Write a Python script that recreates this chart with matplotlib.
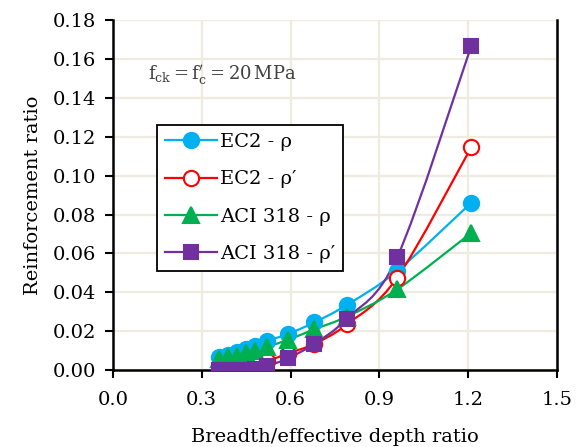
import matplotlib.pyplot as plt
from matplotlib.path import Path
from matplotlib.patches import PathPatch
from matplotlib.lines import Line2D

# breadth / effective depth ratio
x = [0.36, 0.39, 0.42, 0.45, 0.48, 0.52, 0.59, 0.68, 0.79, 0.96, 1.21]

ec2_rho = [0.0070, 0.0080, 0.0093, 0.0108, 0.0125, 0.0150, 0.0185, 0.0245, 0.0335, 0.0510, 0.0860]
ec2_rho_p = [0.0000, 0.0003, 0.0008, 0.0015, 0.0025, 0.0045, 0.0085, 0.0135, 0.0235, 0.0475, 0.1145]
aci_rho = [0.0055, 0.0065, 0.0075, 0.0087, 0.0100, 0.0120, 0.0155, 0.0210, 0.0275, 0.0415, 0.0705]
aci_rho_p = [0.0000, 0.0000, 0.0000, 0.0000, 0.0005, 0.0020, 0.0060, 0.0135, 0.0265, 0.0580, 0.1665]

xticks = [0.0, 0.3, 0.6, 0.9, 1.2, 1.5]
yticks = [0.00, 0.02, 0.04, 0.06, 0.08, 0.10, 0.12, 0.14, 0.16, 0.18]

plt.rcParams['font.family'] = ['DejaVu Serif']
plt.rcParams['mathtext.fontset'] = 'dejavuserif'

fig = plt.figure(figsize=(5.82, 4.47), dpi=100)
ax = fig.add_axes([0.194, 0.172, 0.763, 0.783])


def smooth_path(xs, ys):
    # excel style smoothed line (cubic bezier through the points)
    n = len(xs)
    verts = [(xs[0], ys[0])]
    codes = [Path.MOVETO]
    for i in range(n - 1):
        x0, y0 = (xs[i - 1], ys[i - 1]) if i > 0 else (xs[i], ys[i])
        x3, y3 = (xs[i + 2], ys[i + 2]) if i + 2 < n else (xs[i + 1], ys[i + 1])
        c1 = (xs[i] + (xs[i + 1] - x0) / 6, ys[i] + (ys[i + 1] - y0) / 6)
        c2 = (xs[i + 1] - (x3 - xs[i]) / 6, ys[i + 1] - (y3 - ys[i]) / 6)
        verts += [c1, c2, (xs[i + 1], ys[i + 1])]
        codes += [Path.CURVE4] * 3
    return Path(verts, codes)


series = [
    (ec2_rho, '#00B0F0', 'o', '#00B0F0', 11, 'EC2 - ρ'),
    (ec2_rho_p, '#FF0000', 'o', 'white', 11, 'EC2 - ρ′'),
    (aci_rho, '#00B050', '^', '#00B050', 11, 'ACI 318 - ρ'),
    (aci_rho_p, '#7030A0', 's', '#7030A0', 10.5, 'ACI 318 - ρ′'),
]

handles = []
for ys, col, mk, fc, ms, lab in series:
    ax.add_patch(PathPatch(smooth_path(x, ys), facecolor='none', edgecolor=col,
                           lw=1.6, zorder=3))
    ax.plot(x, ys, linestyle='none', marker=mk, markersize=ms, color=col,
            markerfacecolor=fc, markeredgecolor=col, markeredgewidth=1.5, zorder=4)
    handles.append(Line2D([], [], color=col, lw=1.6, marker=mk, markersize=ms,
                          markerfacecolor=fc, markeredgecolor=col,
                          markeredgewidth=1.5, label=lab))

ax.set_xlim(0, 1.5)
ax.set_ylim(0, 0.18)
ax.set_xticks(xticks)
ax.set_yticks(yticks)
ax.set_xticklabels(['%.1f' % v for v in xticks])
ax.set_yticklabels(['%.2f' % v for v in yticks])
ax.tick_params(labelsize=14, width=1.5, length=6, direction='out', colors='black')
ax.tick_params(axis='x', pad=9)
ax.tick_params(axis='y', pad=6)
ax.grid(True, color='#EEEBE0', lw=1.6)
ax.set_axisbelow(True)
for s in ['left', 'bottom', 'right']:
    ax.spines[s].set_linewidth(1.8)
ax.spines['top'].set_visible(False)

ax.set_xlabel('Breadth/effective depth ratio', fontsize=14, labelpad=14)
ax.set_ylabel('Reinforcement ratio', fontsize=14, labelpad=8)

ax.text(0.118, 0.152, r"$\mathrm{f_{ck}} = \mathrm{f}^{\prime}_{\mathrm{c}} = 20\,\mathrm{MPa}$",
        fontsize=13, color='#404040', ha='left', va='center')

leg = ax.legend(handles=handles, loc='upper left', bbox_to_anchor=(0.099, 0.70),
                fontsize=14, handlelength=2.7, handletextpad=0.15, labelspacing=1.0,
                borderpad=0.4, borderaxespad=0, fancybox=False, framealpha=1,
                edgecolor='black')
leg.get_frame().set_linewidth(1.3)

plt.savefig('out.png', dpi=100)
